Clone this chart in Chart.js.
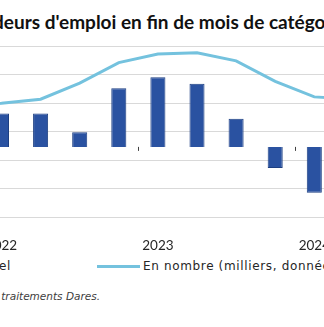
<!DOCTYPE html>
<html lang="fr">
<head>
<meta charset="utf-8">
<script src="https://cdn.jsdelivr.net/npm/chart.js@4.4.1/dist/chart.umd.min.js"></script>
<style>
  html, body { margin: 0; padding: 0; background: #fff; }
  #cadre { position: relative; width: 324px; height: 327px; overflow: hidden; background: #fff; }
  #titre { position: absolute; left: -7px; top: 10px; line-height: 20px; white-space: nowrap; font: bold 19px Lato, sans-serif; color: #111; }
  #titre .debut { position: absolute; right: 100%; top: 0; }
  #graph { position: absolute; left: -100px; top: 0; }
  .leg { position: absolute; top: 259px; line-height: 14px; white-space: nowrap; font: 12px "DejaVu Sans", sans-serif; letter-spacing: 0.65px; color: #262626; display: flex; align-items: center; }
  .leg span.swatch { display: inline-block; margin-right: 3px; }
  #source { position: absolute; top: 290px; right: 224px; line-height: 14px; white-space: nowrap; font: italic 10.5px "DejaVu Sans", sans-serif; color: #404040; }
</style>
</head>
<body>
<div id="cadre">
  <div id="titre"><span class="debut">Deman</span>deurs d'emploi en fin de mois de catégorie A</div>
  <canvas id="graph" width="560" height="250"></canvas>
  <div id="legende"></div>
  <div id="source">Source : France Travail-Dares, STMT ; traitements Dares.</div>
</div>
<script>
// trimestres visibles (plus un de chaque côté pour prolonger la courbe)
const trimestres = ['T4 2021', 'T1 2022', 'T2 2022', 'T3 2022', 'T4 2022', 'T1 2023',
                    'T2 2023', 'T3 2023', 'T4 2023', 'T1 2024', 'T2 2024'];
// glissement annuel en % (axe de gauche)
const glissementAnnuel = [null, 3.3, 3.3, 1.45, 5.8, 6.9, 6.25, 2.8, -2.1, -4.55, null];
// en nombre, milliers, CVS-CJO (axe de droite)
const enNombre = [129.5, 130.0, 130.7, 133.5, 137.1, 138.6, 138.8, 137.4, 133.8, 131.1, 130.7];

const bleuFonce = '#2a52a1';
const bleuClair = '#74c2de';

// petites graduations sur la ligne du zéro entre deux années
const traitsAnnees = {
  id: 'traitsAnnees',
  afterDraw(chart) {
    const { ctx, scales } = chart;
    const y0 = scales.y.getPixelForValue(0);
    ctx.save();
    ctx.strokeStyle = '#404040';
    ctx.lineWidth = 1;
    trimestres.forEach((t, i) => {
      if (i > 0 && t.startsWith('T1')) {
        const px = Math.round((scales.x.getPixelForValue(i - 1) + scales.x.getPixelForValue(i)) / 2) + 0.5;
        ctx.beginPath();
        ctx.moveTo(px, y0);
        ctx.lineTo(px, y0 + 4);
        ctx.stroke();
      }
    });
    ctx.restore();
  }
};

Chart.defaults.font.family = 'Lato';

const chart = new Chart(document.getElementById('graph'), {
  data: {
    labels: trimestres,
    datasets: [
      {
        type: 'bar',
        label: 'Glissement annuel',
        data: glissementAnnuel,
        yAxisID: 'y',
        backgroundColor: bleuFonce,
        borderColor: '#1d3f82',
        borderWidth: 1,
        categoryPercentage: 1,
        barPercentage: 0.385,
        order: 1
      },
      {
        type: 'line',
        label: 'En nombre (milliers, données CVS-CJO)',
        data: enNombre,
        yAxisID: 'y1',
        borderColor: bleuClair,
        backgroundColor: bleuClair,
        borderWidth: 3,
        pointRadius: 0,
        tension: 0,
        order: 0
      }
    ]
  },
  options: {
    responsive: false,
    devicePixelRatio: 1,
    animation: false,
    layout: { padding: { top: 46, left: 0, right: 0, bottom: 0 } },
    plugins: { legend: { display: false }, tooltip: { enabled: false } },
    scales: {
      x: {
        offset: true,
        grid: { display: false },
        border: { display: false },
        ticks: {
          autoSkip: false,
          maxRotation: 0,
          padding: 12,
          color: '#262626',
          font: { size: 13.5 },
          callback: (v, i) => trimestres[i].startsWith('T1') ? trimestres[i].slice(3) : ''
        },
        afterFit: s => { s.height = 32.5; }
      },
      y: {
        position: 'left',
        min: -7,
        max: 10,
        border: { display: false },
        grid: {
          drawTicks: false,
          color: c => c.tick.value === 0 ? '#404040' : 'rgba(0,0,0,0)'
        },
        ticks: { stepSize: 1, color: '#262626' },
        afterFit: s => { s.width = 42.85; }
      },
      y1: {
        position: 'right',
        min: 110,
        max: 140,
        border: { display: false },
        grid: { drawTicks: false, color: '#d9d9d9' },
        ticks: { stepSize: 5, color: '#262626' },
        afterFit: s => { s.width = 87.05; }
      }
    }
  },
  plugins: [traitsAnnees]
});

// légende en HTML, construite depuis les séries
const legende = document.getElementById('legende');
chart.data.datasets.forEach((ds) => {
  const item = document.createElement('div');
  item.className = 'leg';
  const sw = document.createElement('span');
  sw.className = 'swatch';
  if (ds.type === 'bar') {
    sw.style.width = '9px';
    sw.style.height = '9px';
    sw.style.background = ds.backgroundColor;
    item.style.right = '313px';
  } else {
    sw.style.width = '43px';
    sw.style.height = '3px';
    sw.style.background = ds.borderColor;
    item.style.left = '97px';
  }
  const txt = document.createElement('span');
  txt.textContent = ds.label;
  item.appendChild(sw);
  item.appendChild(txt);
  legende.appendChild(item);
});
</script>
</body>
</html>
